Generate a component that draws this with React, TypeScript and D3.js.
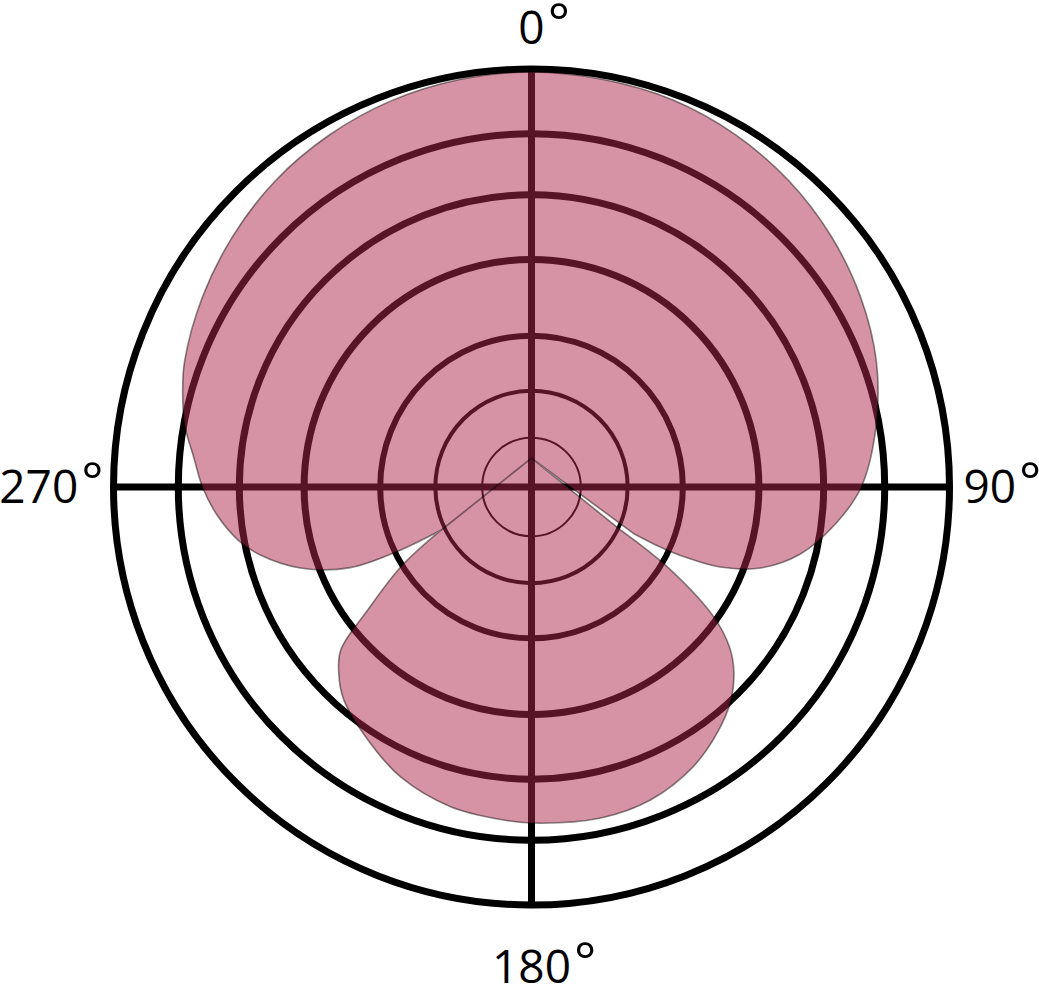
import { useEffect, useRef } from "react";
import * as d3 from "d3";

// grid rings (fraction of the outer radius) and their line widths
const ringLevels = [1, 0.845, 0.699, 0.544, 0.362, 0.23, 0.118];
const ringWidths = [7, 7, 7, 7, 6, 4, 2];

// spokes and their labels (compass degrees, clockwise from top)
const axisAngles = [0, 90, 180, 270];
const axisLabels = ["0", "90", "180", "270"];

// front + side lobes, left null -> top -> right null
const frontAngles = [-115.5, -115.7, -114, -109.3, -104, -100.3, -95, -90, -85, -80, -74.5, -70, -60, -50, -40, -30, -20, -10, 0, 10, 20, 30, 40, 50, 60, 70, 80, 90, 97, 104, 109.5, 113, 114.5, 115, 114.5];
const frontLevels = [0.239, 0.347, 0.474, 0.586, 0.67, 0.713, 0.756, 0.787, 0.811, 0.842, 0.866, 0.883, 0.909, 0.933, 0.955, 0.971, 0.983, 0.99, 0.993, 0.99, 0.986, 0.974, 0.957, 0.935, 0.909, 0.878, 0.837, 0.789, 0.732, 0.663, 0.581, 0.49, 0.407, 0.335, 0.268];

// rear lobe, right null -> bottom -> left null
const rearAngles = [115.8, 120.5, 125.5, 129, 132.6, 137, 142.9, 150, 159.2, 168.2, 180, 185.3, 194.2, 204.3, 213, 221.4, 226, 229.5, 233.1, 238.6, 243.9];
const rearLevels = [0.237, 0.378, 0.536, 0.61, 0.658, 0.699, 0.737, 0.773, 0.801, 0.809, 0.804, 0.799, 0.789, 0.761, 0.72, 0.679, 0.641, 0.6, 0.49, 0.366, 0.251];

// point where both nulls meet
const apexAngle = 0;
const apexLevel = 0.069;

export default function App() {
    const ref = useRef(null);

    useEffect(() => {
        const width = 1039;
        const height = 986;
        const cx = 531.5;
        const cy = 487;
        const R = 418;
        const fs = 46;
        const degFs = 52;
        const digitW = 0.572 * fs;
        const labelGap = 432;

        const rad = (d: number) => d * Math.PI / 180;
        const r = d3.scaleLinear().domain([0, 1]).range([0, R]);

        const svg = d3.select(ref.current)
            .append("svg")
                .attr("width", width)
                .attr("height", height)
                .style("position", "absolute")
                .style("left", 0)
                .style("top", 0);

        const g = svg.append("g").attr("transform", `translate(${cx},${cy})`);

        // rings
        g.selectAll("circle.ring")
            .data(ringLevels)
            .enter()
            .append("circle")
                .attr("r", (d) => r(d))
                .attr("fill", "none")
                .attr("stroke", "#000")
                .attr("stroke-width", (d, i) => ringWidths[i]);

        // spokes
        g.selectAll("line.spoke")
            .data(axisAngles)
            .enter()
            .append("line")
                .attr("x1", 0)
                .attr("y1", 0)
                .attr("x2", (d) => d3.pointRadial(rad(d), r(1))[0])
                .attr("y2", (d) => d3.pointRadial(rad(d), r(1))[1])
                .attr("stroke", "#000")
                .attr("stroke-width", 7);

        // pattern
        const lobe = d3.lineRadial<[number, number]>()
            .angle((d) => rad(d[0]))
            .radius((d) => r(d[1]))
            .curve(d3.curveCatmullRom.alpha(0.5));

        const front = frontAngles.map((a, i) => [a, frontLevels[i]] as [number, number]);
        const rear = rearAngles.map((a, i) => [a, rearLevels[i]] as [number, number]);
        const apex = d3.pointRadial(rad(apexAngle), r(apexLevel));

        const pathD = "M" + apex[0] + "," + apex[1]
            + (lobe(front) as string).replace(/^M/, "L")
            + "L" + apex[0] + "," + apex[1]
            + (lobe(rear) as string).replace(/^M/, "L")
            + "Z";

        g.append("path")
            .attr("d", pathD)
            .attr("fill", "rgb(176,40,78)")
            .attr("fill-opacity", 0.5)
            .attr("stroke", "#000")
            .attr("stroke-opacity", 0.45)
            .attr("stroke-width", 1.6)
            .attr("stroke-linejoin", "round");

        // labels
        axisAngles.forEach((a, i) => {
            const t = axisLabels[i];
            const w = t.length * digitW;
            const [px, py] = d3.pointRadial(rad(a), labelGap);
            let x = px;
            let y = py;
            let anchor = "start";
            if (a === 0) { x = px - w / 2; y = py - 11; }
            else if (a === 180) { x = px - w / 2; y = py + 64; }
            else if (a === 90) { y = fs * 0.357; }
            else { x = px + 4; y = fs * 0.357; anchor = "end"; }

            const txt = g.append("text")
                .attr("x", x)
                .attr("y", y)
                .attr("text-anchor", anchor)
                .style("font-family", "'Open Sans', 'Noto Sans', sans-serif")
                .style("font-size", fs + "px")
                .attr("fill", "#000");
            txt.append("tspan").text(t);
            txt.append("tspan")
                .attr("dx", 3)
                .attr("dy", -3)
                .style("font-size", degFs + "px")
                .text("°");
        });

        return () => {
            d3.select(ref.current).selectAll("*").remove();
        };
    }, [ref]);

    return (
        <div ref={ref} />
    );
}
